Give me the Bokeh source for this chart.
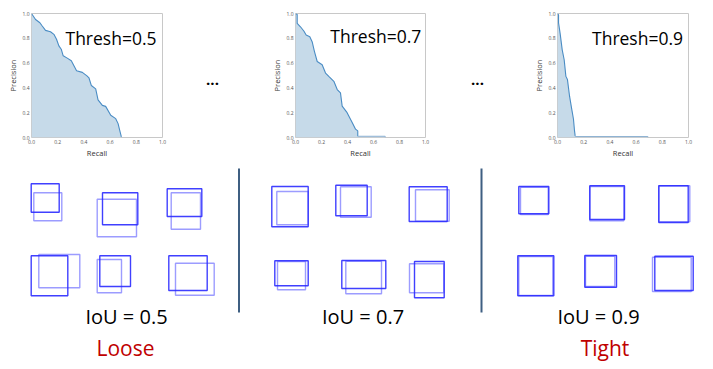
from bokeh.plotting import figure
from bokeh.layouts import column, row
from bokeh.models import Range1d, Label, FixedTicker, PrintfTickFormatter
from bokeh.core.properties import value
from bokeh.embed import file_html
from bokeh.resources import INLINE

# ---------------- data ----------------
ticks = [0.0, 0.2, 0.4, 0.6, 0.8, 1.0]

recall_05 = [0.0, 0.031, 0.064, 0.082, 0.107, 0.145, 0.171, 0.191, 0.209, 0.227, 0.242, 0.273,
             0.304, 0.324, 0.344, 0.388, 0.421, 0.439, 0.457, 0.49, 0.508, 0.541, 0.566, 0.605,
             0.643, 0.661, 0.673, 0.686, 0.689]
precision_05 = [1.0, 0.952, 0.925, 0.899, 0.864, 0.853, 0.832, 0.792, 0.739, 0.712, 0.659, 0.64,
                0.619, 0.579, 0.539, 0.525, 0.499, 0.48, 0.419, 0.392, 0.304, 0.259, 0.251, 0.179,
                0.152, 0.112, 0.059, 0.005, 0.0]

recall_07 = [0.0, 0.013, 0.013, 0.038, 0.064, 0.082, 0.11, 0.128, 0.146, 0.167, 0.205, 0.231,
             0.256, 0.295, 0.321, 0.346, 0.359, 0.397, 0.436, 0.462, 0.479, 0.479, 0.69, 0.69]
precision_07 = [1.0, 0.992, 0.92, 0.893, 0.859, 0.827, 0.813, 0.773, 0.693, 0.613, 0.587, 0.52,
                0.493, 0.453, 0.387, 0.36, 0.253, 0.2, 0.12, 0.067, 0.053, 0.01, 0.01, 0.0]

recall_09 = [0.0, 0.008, 0.008, 0.02, 0.036, 0.051, 0.064, 0.076, 0.092, 0.109, 0.122, 0.13,
             0.135, 0.135, 0.69, 0.69]
precision_09 = [1.0, 0.99, 0.925, 0.84, 0.707, 0.627, 0.493, 0.467, 0.333, 0.227, 0.147, 0.053,
                0.013, 0.008, 0.008, 0.0]

thresh_labels = ["Thresh=0.5", "Thresh=0.7", "Thresh=0.9"]

# boxes (pixel coordinates of the picture), pairs: first = dark, second = light
box_left = [30.7, 33.3, 102.0, 96.7, 166.7, 170.7, 30.7, 38.3, 99.3, 96.7, 168.3, 175.0,
            271.3, 276.3, 335.3, 340.0, 408.7, 415.0, 274.3, 277.0, 341.3, 345.3, 414.0, 409.0,
            518.3, 520.0, 589.3, 589.3, 658.3, 658.3, 517.3, 518.3, 584.3, 585.0, 654.3, 652.0]
box_right = [58.7, 61.3, 137.3, 136.0, 201.3, 200.0, 67.3, 79.3, 130.0, 121.0, 206.7, 213.7,
             307.7, 307.7, 366.7, 370.7, 446.7, 448.7, 307.7, 305.0, 385.3, 381.0, 443.7, 443.3,
             548.3, 547.7, 624.0, 623.3, 687.7, 689.3, 553.3, 552.3, 616.0, 614.3, 692.7, 690.7]
box_top = [183.3, 192.3, 192.3, 198.7, 188.3, 192.3, 255.3, 254.0, 255.3, 259.0, 255.3, 262.7,
           186.0, 191.0, 184.7, 186.3, 186.3, 189.3, 260.3, 261.0, 260.0, 260.7, 261.0, 263.3,
           186.0, 186.7, 185.3, 186.0, 185.3, 185.3, 255.3, 256.0, 255.0, 255.7, 255.7, 256.7]
box_bottom = [211.7, 220.3, 224.3, 236.3, 216.0, 228.7, 295.3, 287.3, 286.0, 292.3, 290.0, 294.7,
              226.3, 224.3, 215.3, 216.7, 221.0, 220.7, 285.3, 289.3, 288.0, 293.3, 297.3, 292.3,
              213.3, 214.0, 219.0, 220.3, 222.0, 221.3, 295.3, 295.0, 286.7, 286.0, 290.0, 291.0]
box_style = ["dark", "light"] * 18

iou_labels = ["IoU = 0.5", "IoU = 0.7", "IoU = 0.9"]
iou_x = [126, 362.5, 598]
word_labels = ["Loose", "Tight"]
word_x = [125, 604.5]
sep_x = [238.5, 481]
dots_x = [212, 477]

FONT = "Open Sans"
TOP_H = 160
TOTAL_W = 705
TOTAL_H = 361


def pr_fig(rec, prec, title, width, mbl, mbr, mbt, mbb, tx, ty):
    p = figure(width=width, height=TOP_H, output_backend="svg", toolbar_location=None,
               x_range=Range1d(0, 1), y_range=Range1d(0, 1),
               min_border_left=mbl, min_border_right=mbr, min_border_top=mbt,
               min_border_bottom=mbb)
    p.grid.visible = False
    p.outline_line_color = "#c8c8c8"
    p.outline_line_width = 1
    p.background_fill_color = "white"
    p.border_fill_color = "white"
    for ax in (p.xaxis[0], p.yaxis[0]):
        ax.ticker = FixedTicker(ticks=ticks)
        ax.formatter = PrintfTickFormatter(format="%.1f")
        ax.major_tick_out = 0
        ax.major_tick_in = 0
        ax.minor_tick_out = 0
        ax.minor_tick_in = 0
        ax.axis_line_color = None
        ax.major_label_text_font_size = "5px"
        ax.major_label_text_color = "#555555"
        ax.major_label_text_font = FONT
        ax.major_label_standoff = 2
        ax.axis_label_text_font_size = "7.5px"
        ax.axis_label_text_font_style = "normal"
        ax.axis_label_text_color = "#333333"
        ax.axis_label_text_font = FONT
        ax.axis_label_standoff = 1
    p.xaxis.axis_label = "Recall"
    p.yaxis.axis_label = "Precision"
    p.varea(x=rec, y1=[0] * len(rec), y2=prec, fill_color="#c6dae9", fill_alpha=1.0)
    # main curve (down to the drop) and the faint tail along the bottom
    cut = next(i for i, v in enumerate(prec) if v <= 0.013) + 1
    p.line(x=rec[:cut], y=prec[:cut], line_color="#4a8cc4", line_width=1.1)
    if cut < len(rec):
        p.line(x=rec[cut - 1:], y=prec[cut - 1:], line_color="#8fb3d3", line_width=1.0)
    p.add_layout(Label(x=tx, y=ty, text=title, text_font=FONT, text_font_size="17.5px",
                       text_align="center", text_baseline="alphabetic", text_color="black"))
    return p


def dots_fig(x0, x1, xd):
    d = figure(width=x1 - x0, height=TOP_H, output_backend="svg", toolbar_location=None,
               x_range=Range1d(x0, x1), y_range=Range1d(TOP_H, 0),
               x_axis_location=None, y_axis_location=None,
               min_border_left=0, min_border_right=0, min_border_top=0, min_border_bottom=0)
    d.grid.visible = False
    d.outline_line_color = None
    d.text(x=[xd], y=[86], text=["..."], text_font=value(FONT), text_font_size="15px",
           text_font_style="bold", text_align="center", text_baseline="alphabetic",
           text_color="black")
    return d


# picture columns: f1 0-175, dots 175-250, f2 250-440, dots 440-500, f3 500-705
f1 = pr_fig(recall_05, precision_05, thresh_labels[0], 175, 31, 13, 12, 23, 0.607, 0.806)
d1 = dots_fig(175, 250, dots_x[0])
f2 = pr_fig(recall_07, precision_07, thresh_labels[1], 190, 45, 15, 12, 23, 0.618, 0.818)
d2 = dots_fig(440, 500, dots_x[1])
f3 = pr_fig(recall_09, precision_09, thresh_labels[2], TOTAL_W - 500, 57, 17, 13, 22,
            0.611, 0.80)

# bottom panel in picture pixel coordinates
b = figure(width=TOTAL_W, height=TOTAL_H - TOP_H, output_backend="svg", toolbar_location=None,
           x_range=Range1d(0, TOTAL_W), y_range=Range1d(TOTAL_H, TOP_H),
           x_axis_location=None, y_axis_location=None,
           min_border_left=0, min_border_right=0, min_border_top=0, min_border_bottom=0)
b.grid.visible = False
b.outline_line_color = None
b.border_fill_color = "white"

dark_idx = [i for i, s in enumerate(box_style) if s == "dark"]
light_idx = [i for i, s in enumerate(box_style) if s == "light"]
for idx, col, alpha in ((light_idx, "#5a5aff", 0.6), (dark_idx, "#2b2bff", 0.9)):
    b.quad(left=[box_left[i] for i in idx], right=[box_right[i] for i in idx],
           top=[box_top[i] for i in idx], bottom=[box_bottom[i] for i in idx],
           fill_alpha=0, line_color=col, line_alpha=alpha, line_width=1.4)

b.segment(x0=sep_x, x1=sep_x, y0=[168, 168], y1=[312, 312], line_color="#3f5f82",
          line_width=2)

b.text(x=iou_x, y=[316, 316, 316], text=iou_labels, text_font=value(FONT),
       text_font_size="20px", text_align="center", text_baseline="alphabetic",
       text_color="black")
b.text(x=word_x, y=[347, 347], text=word_labels, text_font=value(FONT),
       text_font_size="21px", text_align="center", text_baseline="alphabetic",
       text_color="#c00000")

layout = column(row(f1, d1, f2, d2, f3), b)
open("out.html", "w").write(file_html(layout, INLINE))
